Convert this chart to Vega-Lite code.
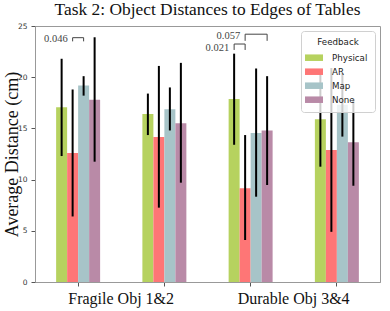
{
  "$schema": "https://vega.github.io/schema/vega-lite/v6.json",
  "width": 345,
  "height": 256,
  "autosize": "none",
  "padding": {"left": 35, "top": 26, "right": 10, "bottom": 29},
  "title": {"text": "Task 2: Object Distances to Edges of Tables", "font": "Liberation Serif", "fontSize": 17.4, "fontWeight": "normal", "color": "#111", "offset": 4, "anchor": "middle"},
  "config": {
    "view": {"stroke": "#999", "strokeWidth": 1},
    "axis": {"grid": false, "domainColor": "#999", "tickColor": "#555", "tickSize": 4, "labelColor": "#333"}
  },
  "datasets": {
    "bars": [
      {"obj": "Obj 1", "feedback": "Physical", "mean": 17.06, "lo": 12.3, "hi": 21.8},
      {"obj": "Obj 1", "feedback": "AR", "mean": 12.6, "lo": 6.4, "hi": 18.8},
      {"obj": "Obj 1", "feedback": "Map", "mean": 19.2, "lo": 18.2, "hi": 20.1},
      {"obj": "Obj 1", "feedback": "None", "mean": 17.8, "lo": 11.75, "hi": 23.9},
      {"obj": "Obj 2", "feedback": "Physical", "mean": 16.4, "lo": 14.35, "hi": 18.4},
      {"obj": "Obj 2", "feedback": "AR", "mean": 14.16, "lo": 7.26, "hi": 21.1},
      {"obj": "Obj 2", "feedback": "Map", "mean": 16.86, "lo": 14.8, "hi": 19.0},
      {"obj": "Obj 2", "feedback": "None", "mean": 15.5, "lo": 9.7, "hi": 21.4},
      {"obj": "Obj 3", "feedback": "Physical", "mean": 17.87, "lo": 13.4, "hi": 22.3},
      {"obj": "Obj 3", "feedback": "AR", "mean": 9.15, "lo": 4.1, "hi": 14.35},
      {"obj": "Obj 3", "feedback": "Map", "mean": 14.55, "lo": 8.33, "hi": 20.85},
      {"obj": "Obj 3", "feedback": "None", "mean": 14.8, "lo": 9.47, "hi": 20.1},
      {"obj": "Obj 4", "feedback": "Physical", "mean": 15.9, "lo": 11.26, "hi": 20.5},
      {"obj": "Obj 4", "feedback": "AR", "mean": 12.9, "lo": 4.9, "hi": 20.9},
      {"obj": "Obj 4", "feedback": "Map", "mean": 17.3, "lo": 14.2, "hi": 20.4},
      {"obj": "Obj 4", "feedback": "None", "mean": 13.64, "lo": 9.4, "hi": 17.9}
    ],
    "brackets": [
      {"id": "b1", "seq": 1, "obj": "Obj 1", "feedback": "AR", "y": 23.5},
      {"id": "b1", "seq": 2, "obj": "Obj 1", "feedback": "AR", "y": 23.86},
      {"id": "b1", "seq": 3, "obj": "Obj 1", "feedback": "Map", "y": 23.86},
      {"id": "b1", "seq": 4, "obj": "Obj 1", "feedback": "Map", "y": 23.5},
      {"id": "b2", "seq": 1, "obj": "Obj 3", "feedback": "AR", "y": 23.55},
      {"id": "b2", "seq": 2, "obj": "Obj 3", "feedback": "AR", "y": 24.2},
      {"id": "b2", "seq": 3, "obj": "Obj 3", "feedback": "None", "y": 24.2},
      {"id": "b2", "seq": 4, "obj": "Obj 3", "feedback": "None", "y": 23.55},
      {"id": "b3", "seq": 1, "obj": "Obj 3", "feedback": "Physical", "y": 22.66},
      {"id": "b3", "seq": 2, "obj": "Obj 3", "feedback": "Physical", "y": 23.24},
      {"id": "b3", "seq": 3, "obj": "Obj 3", "feedback": "AR", "y": 23.24},
      {"id": "b3", "seq": 4, "obj": "Obj 3", "feedback": "AR", "y": 22.66}
    ],
    "labels": [
      {"label": "0.046", "obj": "Obj 1", "feedback": "AR", "y": 23.73},
      {"label": "0.057", "obj": "Obj 3", "feedback": "AR", "y": 23.98},
      {"label": "0.021", "obj": "Obj 3", "feedback": "Physical", "y": 22.88}
    ]
  },
  "encoding": {
    "x": {
      "field": "obj", "type": "nominal",
      "scale": {"domain": ["Obj 1", "Obj 2", "Obj 3", "Obj 4"], "paddingInner": 0.49, "paddingOuter": 0.245},
      "axis": {
        "title": null, "labelAngle": 0,
        "labelExpr": "datum.value == 'Obj 1' ? 'Fragile Obj 1&2' : (datum.value == 'Obj 3' ? 'Durable Obj 3&4' : '')",
        "labelOffset": 43, "labelFont": "Liberation Serif", "labelFontSize": 16, "labelColor": "#111",
        "labelPadding": 4, "labelOverlap": false, "labelBound": false, "labelFlush": false
      }
    },
    "xOffset": {"field": "feedback", "type": "nominal", "scale": {"domain": ["Physical", "AR", "Map", "None"], "paddingInner": 0, "paddingOuter": 0}}
  },
  "layer": [
    {
      "data": {"name": "bars"},
      "mark": {"type": "bar"},
      "encoding": {
        "y": {
          "field": "mean", "type": "quantitative",
          "scale": {"domain": [0, 25], "nice": false},
          "axis": {
            "values": [0, 5, 10, 15, 20, 25], "title": "Average Distance (cm)",
            "titleFont": "Liberation Serif", "titleFontSize": 18, "titleFontWeight": "normal", "titleColor": "#111",
            "titlePadding": -4, "labelFont": "DejaVu Sans", "labelFontSize": 7.5, "labelPadding": 4
          }
        },
        "color": {
          "field": "feedback", "type": "nominal",
          "scale": {"domain": ["Physical", "AR", "Map", "None"], "range": ["#b6d25f", "#fe7676", "#a7c4c8", "#b98aa7"]},
          "legend": {
            "title": "Feedback", "orient": "top-right", "offset": 5,
            "titleFont": "DejaVu Sans", "titleFontSize": 8.7, "titleFontWeight": "normal", "titleColor": "#222",
            "titleAnchor": "middle", "titlePadding": 5,
            "labelFont": "DejaVu Sans", "labelFontSize": 8.7, "labelColor": "#222", "labelOffset": 12,
            "symbolType": "M-1.6,-0.58H1.6V0.58H-1.6Z", "symbolSize": 127, "symbolStrokeWidth": 0, "symbolOpacity": 1,
            "rowPadding": 3,
            "fillColor": "rgba(255,255,255,0.8)", "strokeColor": "#d0d0d0", "cornerRadius": 3, "padding": 7
          }
        }
      }
    },
    {
      "data": {"name": "bars"},
      "mark": {"type": "rule", "color": "#000", "strokeWidth": 2},
      "encoding": {
        "y": {"field": "lo", "type": "quantitative"},
        "y2": {"field": "hi"}
      }
    },
    {
      "data": {"name": "brackets"},
      "mark": {"type": "line", "color": "#444", "strokeWidth": 1},
      "encoding": {
        "y": {"field": "y", "type": "quantitative"},
        "detail": {"field": "id"},
        "order": {"field": "seq"}
      }
    },
    {
      "data": {"name": "labels"},
      "mark": {"type": "text", "align": "right", "baseline": "middle", "dx": -5, "font": "Liberation Serif", "fontSize": 10.5, "color": "#444"},
      "encoding": {
        "y": {"field": "y", "type": "quantitative"},
        "text": {"field": "label"}
      }
    }
  ]
}
